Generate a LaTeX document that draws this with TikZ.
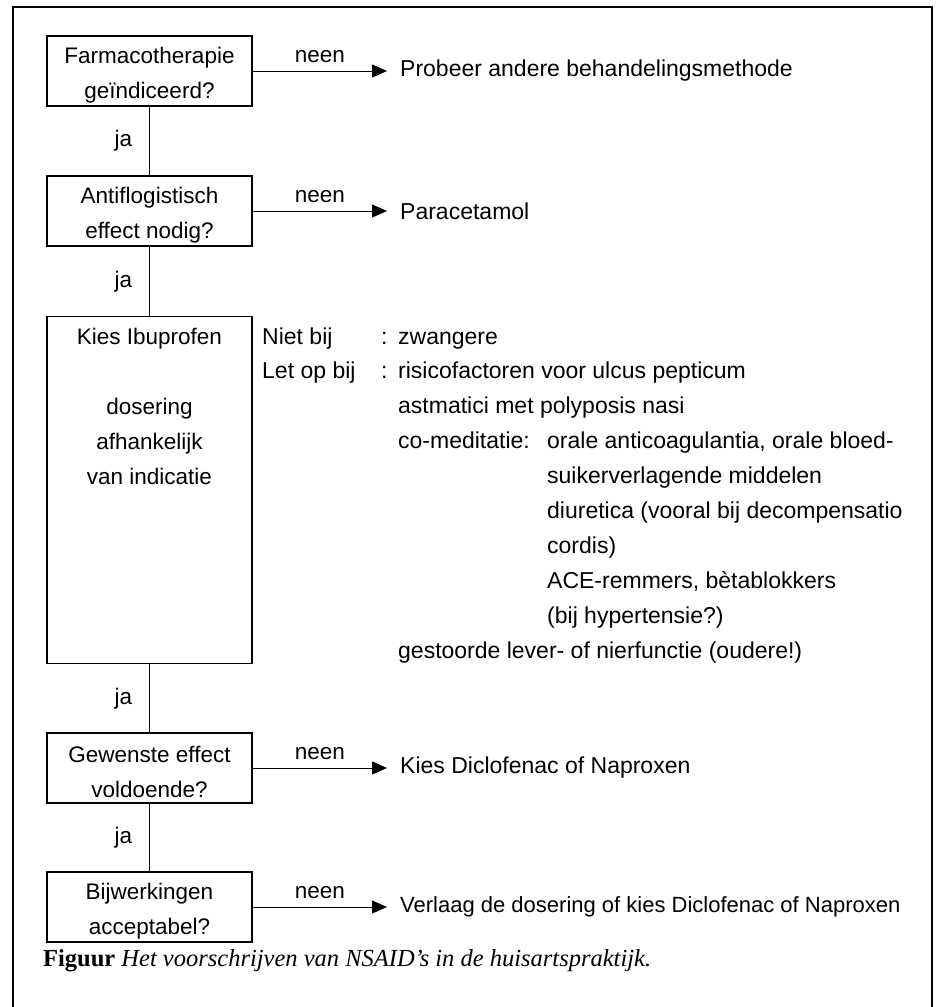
\documentclass[tikz,border=0pt]{standalone}
\usepackage{fontspec}
\setmainfont{Liberation Sans}
\newfontfamily\serif{Liberation Serif}
\usetikzlibrary{arrows.meta}
\newcommand{\hoog}{\rule{0pt}{24pt}}

\tikzset{
  vak/.style={draw, line width=1.2pt, minimum width=205pt, minimum height=70pt, align=center, inner sep=0pt},
  lijn/.style={line width=0.9pt},
  pijl/.style={line width=0.9pt, -{Triangle[length=15pt,width=13pt]}},
  uitkomst/.style={anchor=west, inner xsep=13pt, inner ysep=0pt, font=\fontsize{23}{35}\selectfont},
  tekst/.style={anchor=base west, inner sep=0pt, font=\fontsize{23}{35}\selectfont},
}

\begin{document}
\begin{tikzpicture}[x=1pt, y=-1pt, font=\fontsize{22.5}{35}\selectfont]
  \useasboundingbox (0,0) rectangle (936,1007);
  \draw[line width=1.3pt] (13,1007) -- (13,7) -- (932,7) -- (932,1007);

  % questions
  \node[vak] (farma) at (149.5,71) {\hoog Farmacotherapie\\geïndiceerd?};
  \node[vak] (anti) at (149.5,211) {\hoog Antiflogistisch\\effect nodig?};
  \node[vak, minimum height=347pt, anchor=north] (kies) at (149.5,316) {};
  \node[anchor=north, inner sep=0pt, align=center] (kiestekst) at (149.5,328)
    {Kies Ibuprofen\\[35pt]dosering\\afhankelijk\\van indicatie};
  \node[vak] (gewenst) at (149.5,768) {\hoog Gewenste effect\\voldoende?};
  \node[vak] (bijw) at (149.5,907) {\hoog Bijwerkingen\\acceptabel?};

  % answers
  \node[uitkomst] (probeer) at (387,71) {Probeer andere behandelingsmethode};
  \node[uitkomst] (para) at (387,211) {Paracetamol};
  \node[uitkomst] (diclo) at (387,768) {Kies Diclofenac of Naproxen};
  \node[uitkomst, font=\fontsize{22}{35}\selectfont] (verlaag) at (387,907) {Verlaag de dosering of kies Diclofenac of Naproxen};

  \draw[pijl] (farma.east) -- (farma.east -| probeer.west) node[midway, above=8pt, inner sep=0pt] {neen};
  \draw[pijl] (anti.east) -- (anti.east -| para.west) node[midway, above=8pt, inner sep=0pt] {neen};
  \draw[pijl] (gewenst.east) -- (gewenst.east -| diclo.west) node[midway, above=8pt, inner sep=0pt] {neen};
  \draw[pijl] (bijw.east) -- (bijw.east -| verlaag.west) node[midway, above=8pt, inner sep=0pt] {neen};

  \draw[lijn] (farma) -- (anti) node[midway, left=17pt, inner sep=0pt] {ja};
  \draw[lijn] (anti) -- (kies) node[midway, left=17pt, inner sep=0pt] {ja};
  \draw[lijn] (kies) -- (gewenst) node[midway, left=17pt, inner sep=0pt] {ja};
  \draw[lijn] (gewenst) -- (bijw) node[midway, left=17pt, inner sep=0pt] {ja};

  % remarks beside Ibuprofen
  \node[tekst] (nietbij) at (262,344) {Niet bij};
  \node[tekst] (dubbel1) at (381,344) {:};
  \node[tekst] (zwanger) at (398,344) {zwangere};
  \node[tekst] (letop) at (262,378) {Let op bij};
  \node[tekst] (dubbel2) at (381,378) {:};
  \node[tekst] (risico) at (398,378) {risicofactoren voor ulcus pepticum};
  \node[tekst] (astma) at (398,413) {astmatici met polyposis nasi};
  \node[tekst] (comed) at (398,448) {co-meditatie:};
  \node[tekst] (orale) at (547,448) {orale anticoagulantia, orale bloed-};
  \node[tekst] (suiker) at (547,483) {suikerverlagende middelen};
  \node[tekst] (diuretica) at (547,518) {diuretica (vooral bij decompensatio};
  \node[tekst] (cordis) at (547,553) {cordis)};
  \node[tekst] (ace) at (547,588) {ACE-remmers, bètablokkers};
  \node[tekst] (hyper) at (547,623) {(bij hypertensie?)};
  \node[tekst] (lever) at (398,658) {gestoorde lever- of nierfunctie (oudere!)};

  \node[anchor=base west, inner sep=0pt, font=\serif\fontsize{24.5}{30}\selectfont] (figuur) at (43,966)
    {\textbf{Figuur} \textit{Het voorschrijven van NSAID’s in de huisartspraktijk.}};
\end{tikzpicture}
\end{document}
